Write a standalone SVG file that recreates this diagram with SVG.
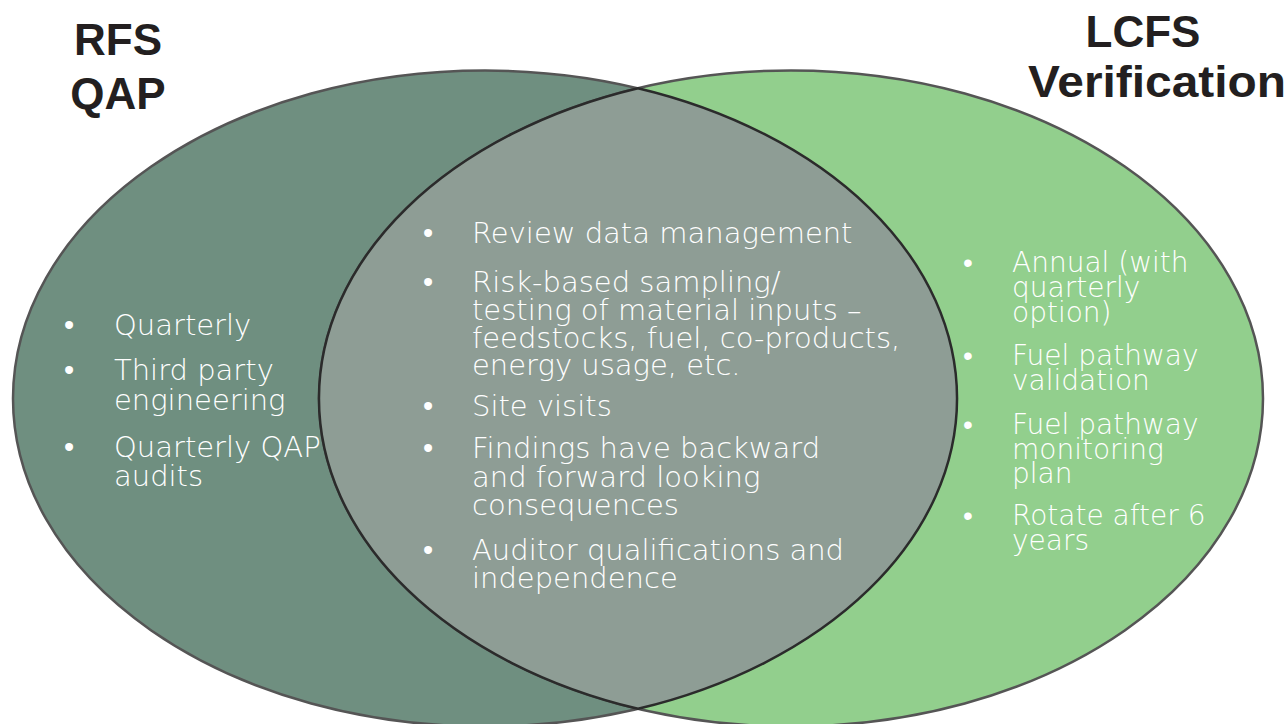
<svg xmlns="http://www.w3.org/2000/svg" width="1288" height="724" viewBox="0 0 1288 724">
<style>
.title{font-family:"Liberation Sans",Arial,sans-serif;font-weight:bold;font-size:44px;fill:#231f20;text-anchor:middle}
.body{font-family:"DejaVu Sans",sans-serif;font-weight:200;font-size:29px;fill:#ffffff}
.small{font-size:28px}
.outer{stroke:#555555;stroke-width:2.5}
</style>
<rect width="1288" height="724" fill="#ffffff"/>
<g id="rfs">
<ellipse class="outer" cx="485" cy="398.5" rx="472" ry="328" fill="#6f8f80"/>
</g>
<g id="lcfs">
<ellipse class="outer" cx="791" cy="398.5" rx="472" ry="328" fill="#92cf8d"/>
</g>
<g id="overlap">
<path d="M 638 88.2 A 472 328 0 0 1 638 708.8 A 472 328 0 0 1 638 88.2 Z" fill="#8e9d95" stroke="#2b2b2b" stroke-width="2.5"/>
</g>
<g id="titles">
<text class="title" x="118" y="55">RFS</text>
<text class="title" x="118" y="109">QAP</text>
<text class="title" x="1143" y="47">LCFS</text>
<text class="title" x="1157" y="97" textLength="258" lengthAdjust="spacingAndGlyphs">Verification</text>
</g>
<g id="left-list" class="body">
<text x="64" y="335">•</text><text x="114" y="335">Quarterly</text>
<text x="64" y="380">•</text><text x="114" y="380">Third party</text>
<text x="114" y="410">engineering</text>
<text x="64" y="457">•</text><text x="114" y="457">Quarterly QAP</text>
<text x="114" y="486">audits</text>
</g>
<g id="center-list" class="body">
<text x="423" y="243">•</text><text x="472" y="243">Review data management</text>
<text x="423" y="292">•</text><text x="472" y="292">Risk-based sampling/</text>
<text x="472" y="320">testing of material inputs –</text>
<text x="472" y="348">feedstocks, fuel, co-products,</text>
<text x="472" y="375">energy usage, etc.</text>
<text x="423" y="416">•</text><text x="472" y="416">Site visits</text>
<text x="423" y="458">•</text><text x="472" y="458">Findings have backward</text>
<text x="472" y="487">and forward looking</text>
<text x="472" y="515">consequences</text>
<text x="423" y="560">•</text><text x="472" y="560">Auditor qualifications and</text>
<text x="472" y="588">independence</text>
</g>
<g id="right-list" class="body small">
<text x="963" y="272">•</text><text x="1012" y="272">Annual (with</text>
<text x="1012" y="297">quarterly</text>
<text x="1012" y="322">option)</text>
<text x="963" y="365">•</text><text x="1012" y="365">Fuel pathway</text>
<text x="1012" y="390">validation</text>
<text x="963" y="434">•</text><text x="1012" y="434">Fuel pathway</text>
<text x="1012" y="459">monitoring</text>
<text x="1012" y="483">plan</text>
<text x="963" y="525">•</text><text x="1012" y="525">Rotate after 6</text>
<text x="1012" y="550">years</text>
</g>
</svg>
